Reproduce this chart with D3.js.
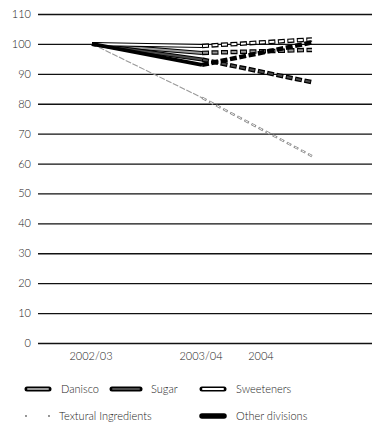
<html>
<head>
<style>
  body { margin: 0; background: #fff; }
  text { font-family: Lato, "Open Sans", sans-serif; font-weight: 300; fill: #222; }
</style>
</head>
<body>
<svg id="chart" width="372" height="427"></svg>
<script src="https://d3js.org/d3.v7.min.js"></script>
<script>
// data (index, 2002/03 = 100)
const categories = ["2002/03", "2003/04", "2004"];
const yTicks = [0, 10, 20, 30, 40, 50, 60, 70, 80, 90, 100, 110];
const danisco = [100, 97, 98];
const sugar = [100, 94.8, 87.2];
const sweeteners = [100, 99.3, 101.5];
const textural = [100, 82, 62.5];
const otherDivisions = [100, 93, 100.5];

const series = [
  { name: "Danisco", values: danisco, inner: "#9a9a9a" },
  { name: "Sugar", values: sugar, inner: "#4a4a4a" },
  { name: "Sweeteners", values: sweeteners, inner: "#ffffff" },
  { name: "Textural Ingredients", values: textural, thin: true },
  { name: "Other divisions", values: otherDivisions, inner: "#000000" }
];

const svg = d3.select("#chart");

const x = d3.scalePoint().domain(categories).range([92, 312]);
const y = d3.scaleLinear().domain([0, 110]).range([343, 14]);
// the x labels in the original don't sit exactly under the points
const labelX = d3.scaleOrdinal().domain(categories).range([91, 201, 261]);

// gridlines + y labels
const yAxis = d3.axisLeft(y).tickValues(yTicks).tickSize(-334).tickPadding(7);
const gy = svg.append("g").attr("transform", "translate(38,0)").call(yAxis);
gy.select(".domain").remove();
gy.selectAll(".tick line").attr("stroke", "#111").attr("stroke-width", 1.3);
gy.selectAll(".tick text").style("font-size", "11px").style("font-family", "Lato, sans-serif").attr("fill", "#333");

// x labels
svg.selectAll(".xlab").data(categories).enter().append("text")
  .attr("class", "xlab")
  .attr("x", d => labelX(d))
  .attr("y", 360)
  .attr("text-anchor", "middle")
  .style("font-size", "11px")
  .text(d => d);

const line = d3.line().x(d => x(d.c)).y(d => y(d.v));

function segs(vals) {
  const pts = vals.map((v, i) => ({ c: categories[i], v: v }));
  return { solid: pts.slice(0, 2), dashed: pts.slice(1) };
}

const plot = svg.append("g");

series.forEach(s => {
  const p = segs(s.values);
  if (s.thin) {
    plot.append("path").attr("d", line(p.solid))
      .attr("fill", "none").attr("stroke", "#999").attr("stroke-width", 1.1)
      .attr("stroke-dasharray", "6,1.5");
    plot.append("path").attr("d", line(p.dashed))
      .attr("fill", "none").attr("stroke", "#8a8a8a").attr("stroke-width", 2.4)
      .attr("stroke-dasharray", "5,3");
    plot.append("path").attr("d", line(p.dashed))
      .attr("fill", "none").attr("stroke", "#fff").attr("stroke-width", 1)
      .attr("stroke-dasharray", "3,5").attr("stroke-dashoffset", -1);
    return;
  }
  // solid part, drawn as an outlined stroke
  plot.append("path").attr("d", line(p.solid))
    .attr("fill", "none").attr("stroke", "#000").attr("stroke-width", 4);
  plot.append("path").attr("d", line(p.solid))
    .attr("fill", "none").attr("stroke", s.inner).attr("stroke-width", 2);
  // forecast part, dashed
  plot.append("path").attr("d", line(p.dashed))
    .attr("fill", "none").attr("stroke", "#000").attr("stroke-width", 4.5)
    .attr("stroke-dasharray", "7,2.5");
  plot.append("path").attr("d", line(p.dashed))
    .attr("fill", "none").attr("stroke", s.inner).attr("stroke-width", 2)
    .attr("stroke-dasharray", "5,4.5")
    .attr("stroke-dashoffset", -1);
});

// legend
const legendRows = [
  { name: "Danisco", row: 0, col: 0 },
  { name: "Sugar", row: 0, col: 1 },
  { name: "Sweeteners", row: 0, col: 2 },
  { name: "Textural Ingredients", row: 1, col: 0 },
  { name: "Other divisions", row: 1, col: 2 }
];
const legX = d3.scaleOrdinal().domain([0, 1, 2]).range([25, 110, 200]);
const legY = d3.scaleOrdinal().domain([0, 1]).range([389, 416]);

legendRows.forEach(l => {
  const s = series.find(d => d.name === l.name);
  const g = svg.append("g").attr("transform", `translate(${legX(l.col)},${legY(l.row)})`);
  if (s.thin) {
    g.append("circle").attr("cx", 1).attr("cy", 0).attr("r", 0.9).attr("fill", "#666");
    g.append("circle").attr("cx", 24).attr("cy", 0).attr("r", 0.9).attr("fill", "#666");
  } else {
    const w = l.col === 1 ? 30 : 24;
    g.append("line").attr("x1", 2).attr("x2", w).attr("stroke", "#000")
      .attr("stroke-width", s.name === "Other divisions" ? 5.5 : 5).attr("stroke-linecap", "round");
    g.append("line").attr("x1", 3).attr("x2", w - 1).attr("stroke", s.inner)
      .attr("stroke-width", 2).attr("stroke-linecap", "round");
  }
  g.append("text").attr("x", l.col === 1 ? 41 : (s.thin ? 34 : 36)).attr("y", 4)
    .style("font-size", "11px").text(l.name);
});
</script>
</body>
</html>
